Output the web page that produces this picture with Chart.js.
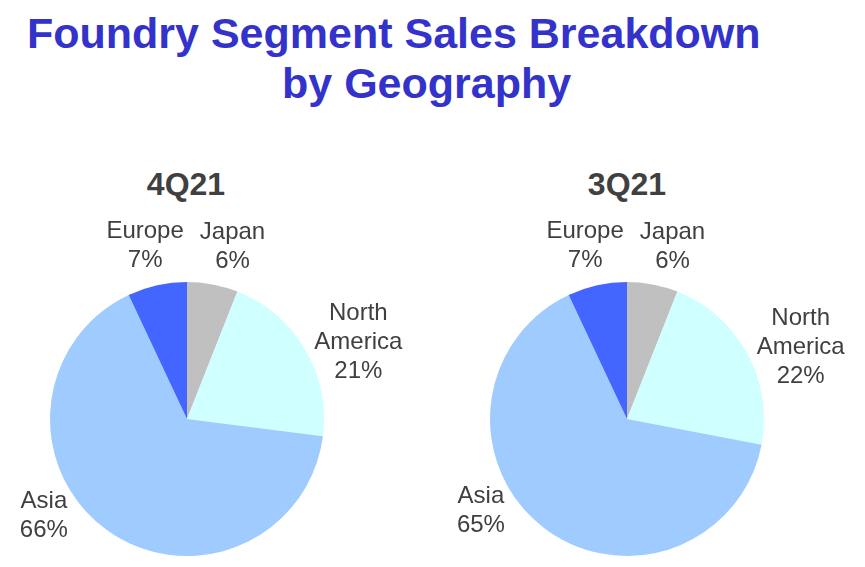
<!DOCTYPE html>
<html>
<head>
<meta charset="utf-8">
<script src="https://cdn.jsdelivr.net/npm/chart.js@4.4.0/dist/chart.umd.min.js"></script>
<style>
  html, body { margin: 0; padding: 0; background: #fff; }
  body { width: 865px; height: 567px; position: relative; overflow: hidden;
         font-family: "Liberation Sans", Arial, sans-serif; }
  .title { position: absolute; color: #3333CC; font-weight: bold; font-size: 43px;
           line-height: 50px; white-space: nowrap; }
  .sub { position: absolute; color: #404040; font-weight: bold; font-size: 32px;
         width: 200px; text-align: center; top: 166px; }
  canvas { position: absolute; }
</style>
</head>
<body>
<div class="title" style="left:27px; top:8px;">Foundry Segment Sales Breakdown</div>
<div class="title" style="left:282px; top:58px;">by Geography</div>
<div class="sub" style="left:86px;">4Q21</div>
<div class="sub" style="left:527px;">3Q21</div>
<canvas id="pie4q" width="432" height="417" style="left:0; top:150px;"></canvas>
<canvas id="pie3q" width="432" height="417" style="left:433px; top:150px;"></canvas>
<script>
// sales share by region, clockwise from 12 o'clock
const categories = ['Japan', 'North America', 'Asia', 'Europe']
const q4_21 = [6, 21, 66, 7]
const q3_21 = [6, 22, 65, 7]
const colors = ['#C0C0C0', '#CFFFFF', '#A0CBFF', '#4266FF']

// label placement: angle shift (deg) from slice middle, distance as share of radius
const labelShift = [4, 6.5, 20, -1]
const labelDist = [1.30, 1.37, 1.26, 1.30]

const outsideLabels = {
    id: 'outsideLabels',
    afterDatasetsDraw(chart) {
        const ctx = chart.ctx
        const meta = chart.getDatasetMeta(0)
        const values = chart.data.datasets[0].data
        ctx.save()
        ctx.font = '24px "Liberation Sans", Arial, sans-serif'
        ctx.fillStyle = '#404040'
        ctx.textAlign = 'center'
        ctx.textBaseline = 'middle'
        meta.data.forEach((arc, i) => {
            const p = arc.getProps(['x', 'y', 'startAngle', 'endAngle', 'outerRadius'], true)
            const a = (p.startAngle + p.endAngle) / 2 + labelShift[i] * Math.PI / 180
            const d = p.outerRadius * labelDist[i]
            const cx = p.x + Math.cos(a) * d
            const cy = p.y + Math.sin(a) * d
            const lines = chart.data.labels[i].split(' ').concat([values[i] + '%'])
            const lh = 29
            lines.forEach((t, k) => {
                ctx.fillText(t, cx, cy + (k - (lines.length - 1) / 2) * lh)
            })
        })
        ctx.restore()
    }
}

function makePie(id, values, pad) {
    new Chart(document.getElementById(id), {
        type: 'pie',
        data: {
            labels: categories,
            datasets: [{
                data: values,
                backgroundColor: colors,
                borderWidth: 0
            }]
        },
        options: {
            responsive: false,
            animation: false,
            layout: { padding: pad },
            plugins: {
                legend: { display: false },
                tooltip: { enabled: false }
            }
        },
        plugins: [outsideLabels]
    })
}

makePie('pie4q', q4_21, { left: 50, right: 108, top: 132, bottom: 11 })
makePie('pie3q', q3_21, { left: 57, right: 101, top: 132, bottom: 11 })
</script>
</body>
</html>
